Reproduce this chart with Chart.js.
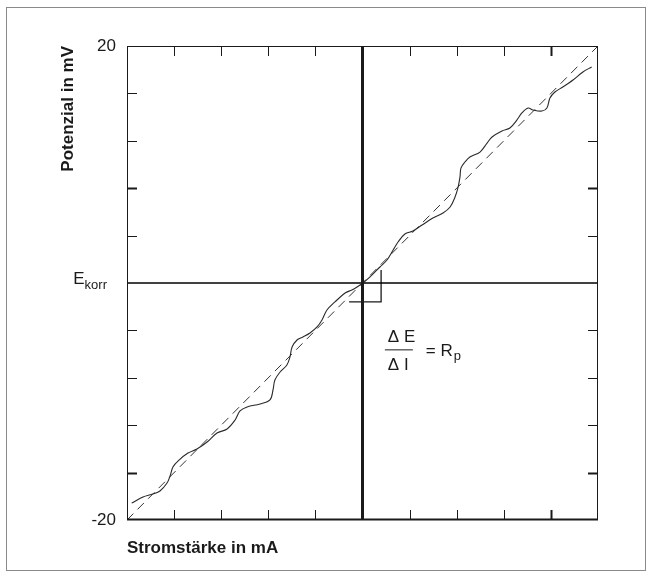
<!DOCTYPE html>
<html>
<head>
<meta charset="utf-8">
<script src="https://cdn.jsdelivr.net/npm/chart.js@4.4.1/dist/chart.umd.min.js"></script>
<style>
  body { margin: 0; background: #fff; }
  #wrap { position: relative; width: 652px; height: 576px; }
  #frame { position: absolute; left: 6px; top: 7px; width: 638px; height: 562px; border: 1px solid #8a8a8a; }
  canvas { position: absolute; left: 0; top: 0; }
</style>
</head>
<body>
<div id="wrap">
  <div id="frame"></div>
  <canvas id="chart" width="652" height="576"></canvas>
</div>
<script>
// measured curve: current (mA) vs potential (mV)
const current = [-9.80, -9.32, -8.90, -8.60, -8.30, -8.17, -8.05, -7.79, -7.41, -7.03, -6.60, -6.18,
    -5.75, -5.41, -5.20, -4.90, -4.35, -3.93, -3.80, -3.72, -3.50, -3.21, -3.08, -2.99, -2.78, -2.53,
    -2.23, -1.93, -1.72, -1.51, -1.17, -0.74, -0.45, -0.23, 0.02, 0.32, 0.74, 1.04, 1.30, 1.51, 1.80,
    2.14, 2.53, 2.99, 3.42, 3.72, 3.93, 4.06, 4.14, 4.18, 4.35, 4.56, 4.99, 5.29, 5.50, 5.92, 6.26,
    6.56, 6.77, 7.03, 7.24, 7.62, 7.83, 7.96, 8.17, 8.51, 8.94, 9.36, 9.73];
const potential = [-18.57, -18.06, -17.81, -17.55, -16.88, -16.29, -15.53, -14.94, -14.35, -14.01,
    -13.42, -12.66, -12.32, -11.56, -10.80, -10.46, -10.21, -9.87, -9.03, -8.19, -7.51, -6.92, -6.24,
    -5.40, -4.81, -4.56, -4.22, -3.71, -3.12, -2.28, -1.60, -0.84, -0.59, -0.34, 0.00, 0.51, 1.35, 1.94,
    2.78, 3.46, 4.14, 4.39, 4.89, 5.49, 5.91, 6.41, 7.26, 8.10, 8.95, 9.70, 10.21, 10.63, 11.05, 11.81,
    12.32, 12.83, 13.08, 13.76, 14.35, 14.77, 14.60, 14.51, 14.77, 15.61, 16.12, 16.54, 17.13, 17.81, 18.23];

// linear fit (slope = Rp)
const fitCurrent = [-10, 10];
const fitPotential = [-20, 20];

// slope triangle at E_korr
const stepCurrent = [-0.57, 0.79, 0.79];
const stepPotential = [-1.6, -1.6, 1.1];

const xTicks = [-8, -6, -4, -2, 2, 4, 6, 8];
const yTicks = [-16, -12, -8, -4, 4, 8, 12, 16];
const yLabels = { '20': '20', '-20': '-20' };

const toPts = (xs, ys) => xs.map((x, i) => ({ x: x, y: ys[i] }));

const ink = '#1a1a1a';
const fam = '"Liberation Sans", Arial, sans-serif';

const decor = {
    id: 'decor',
    afterDatasetsDraw(chart) {
        const { ctx, chartArea: a, scales: { x, y } } = chart;
        ctx.save();
        ctx.strokeStyle = ink;
        ctx.lineWidth = 1;
        ctx.strokeRect(a.left + 0.5, a.top + 0.5, a.right - a.left - 1, a.bottom - a.top - 1);
        ctx.lineWidth = 2;
        ctx.beginPath();
        ctx.moveTo(a.left, a.bottom - 0.5);
        ctx.lineTo(a.right, a.bottom - 0.5);
        ctx.stroke();

        // inward tick marks
        const len = 10;
        xTicks.forEach(v => {
            const px = Math.round(x.getPixelForValue(v)) + 0.5;
            ctx.lineWidth = v === 8 ? 2 : 1;
            ctx.beginPath();
            ctx.moveTo(px, a.top); ctx.lineTo(px, a.top + len);
            ctx.moveTo(px, a.bottom); ctx.lineTo(px, a.bottom - len);
            ctx.stroke();
        });
        yTicks.forEach(v => {
            const py = Math.round(y.getPixelForValue(v)) + 0.5;
            ctx.lineWidth = (v === 8 || v === -16) ? 2 : 1;
            ctx.beginPath();
            ctx.moveTo(a.left, py); ctx.lineTo(a.left + len, py);
            ctx.moveTo(a.right, py); ctx.lineTo(a.right - len, py);
            ctx.stroke();
        });

        // E_korr label
        ctx.fillStyle = ink;
        ctx.textBaseline = 'alphabetic';
        const y0 = y.getPixelForValue(0);
        ctx.font = '13px ' + fam;
        const subW = ctx.measureText('korr').width;
        ctx.textAlign = 'right';
        ctx.fillText('korr', a.left - 20, y0 + 6);
        ctx.font = '17px ' + fam;
        ctx.fillText('E', a.left - 20 - subW, y0 + 1);

        // Rp formula
        const fx = x.getPixelForValue(0.95);
        const fy = y.getPixelForValue(-5.6);
        ctx.textAlign = 'left';
        ctx.font = '17px ' + fam;
        ctx.fillText('\u0394 E', fx + 3, fy - 7);
        ctx.fillText('\u0394 I', fx + 3, fy + 21);
        ctx.lineWidth = 1;
        ctx.beginPath();
        ctx.moveTo(fx, fy + 0.5); ctx.lineTo(fx + 28, fy + 0.5);
        ctx.stroke();
        ctx.fillText('= R', fx + 41, fy + 7);
        const rw = ctx.measureText('= R').width;
        ctx.font = '13px ' + fam;
        ctx.fillText('p', fx + 41 + rw + 1, fy + 11);
        ctx.restore();
    }
};

new Chart(document.getElementById('chart'), {
    type: 'scatter',
    data: {
        datasets: [
            { data: toPts([0, 0], [-20, 20]), showLine: true, borderColor: ink, borderWidth: 3, pointRadius: 0 },
            { data: toPts([-10, 10], [0, 0]), showLine: true, borderColor: '#000', borderWidth: 1.4, pointRadius: 0 },
            { data: toPts(stepCurrent, stepPotential), showLine: true, borderColor: ink, borderWidth: 1.3, pointRadius: 0 },
            { data: toPts(fitCurrent, fitPotential), showLine: true, borderColor: '#333', borderWidth: 1,
              borderDash: [9, 6], pointRadius: 0 },
            { data: toPts(current, potential), showLine: true, borderColor: '#2a2a2a', borderWidth: 1.1,
              tension: 0.35, pointRadius: 0 }
        ]
    },
    options: {
        responsive: false,
        animation: false,
        layout: { padding: { left: 0, right: 54, top: 46, bottom: 0 } },
        plugins: { legend: { display: false }, tooltip: { enabled: false } },
        scales: {
            x: {
                min: -10, max: 10,
                grid: { display: false, drawTicks: false },
                border: { display: false },
                ticks: { display: false },
                title: { display: true, text: 'Stromstärke in mA', align: 'start', color: ink,
                         font: { family: fam, size: 17, weight: 'bold' },
                         padding: { top: 0, bottom: 17 } },
                afterFit: s => { s.height = 56; }
            },
            y: {
                min: -20, max: 20,
                grid: { display: false, drawTicks: false },
                border: { display: false },
                afterBuildTicks: s => { s.ticks = [{ value: -20 }, { value: 0 }, { value: 20 }]; },
                ticks: {
                    color: ink, padding: 11,
                    font: { family: fam, size: 17 },
                    callback: v => yLabels[String(v)] || ''
                },
                title: { display: true, text: 'Potenzial in mV', align: 'end', color: ink,
                         font: { family: fam, size: 17, weight: 'bold' },
                         padding: { top: 58, bottom: 0 } },
                afterFit: s => { s.width = 127; }
            }
        }
    },
    plugins: [decor]
});
</script>
</body>
</html>
